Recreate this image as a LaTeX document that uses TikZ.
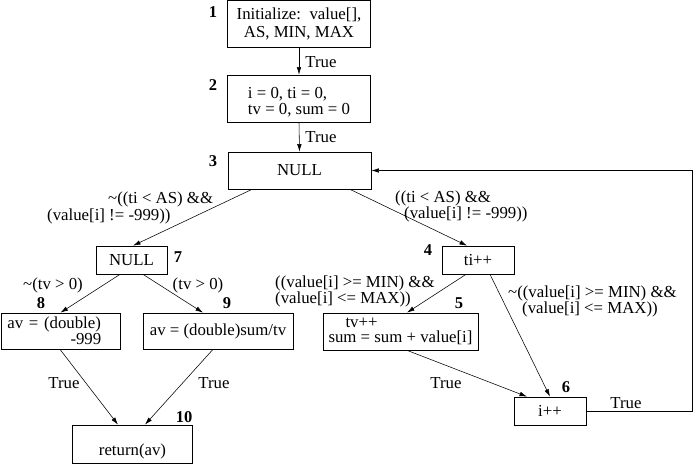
\documentclass[tikz,border=0pt]{standalone}
\usepackage{fontspec}
\setmainfont{Liberation Serif}
\usetikzlibrary{arrows.meta}
\begin{document}
\begin{tikzpicture}[x=1pt,y=-1pt,
  every node/.style={font=\fontsize{16.8}{13}\selectfont, inner sep=0pt},
  blk/.style={draw, line width=0.7pt, align=center},
  num/.style={font=\fontsize{16.5}{16.5}\selectfont\bfseries},
  lbl/.style={align=left, anchor=west},
  flow/.style={draw, line width=0.55pt, -{Latex[length=7.5pt,width=4.5pt]}},
]
\useasboundingbox (0,0) rectangle (694,464);

% statement blocks
\node[blk, minimum width=143, minimum height=47, font=\fontsize{16.8}{18}\selectfont] (n1) at (299,23.5) {Initialize:\ \ value[],\\ AS, MIN, MAX};
\node[blk, minimum width=143, minimum height=47, align=left, font=\fontsize{16.8}{16}\selectfont] (n2) at (299,98.5) {\rule{0pt}{19pt}i = 0, ti = 0,\\tv = 0, sum = 0};
\node[blk, minimum width=143, minimum height=37] (n3) at (299.5,170.5) {NULL};
\node[blk, minimum width=71, minimum height=28] (n7) at (131.5,260) {NULL};
\node[blk, minimum width=72, minimum height=28] (n4) at (478,260) {ti++};
\node[blk, minimum width=155, minimum height=37, align=left, font=\fontsize{16.8}{15.5}\selectfont] (n5) at (400.5,331.5) {\hspace*{17pt}tv++\\sum = sum + value[i]};
\node[blk, minimum width=119, minimum height=36, text width=106pt, align=left, font=\fontsize{16.8}{14}\selectfont] (n8) at (60.5,331) {av = (double)\\\hspace*{63pt}-999};
\node[blk, minimum width=150, minimum height=36] (n9) at (218,331) {av = (double)sum/tv};
\node[blk, minimum width=72, minimum height=28] (n6) at (550,411) {i++};
\node[blk, minimum width=120, minimum height=38, text height=27pt] (n10) at (132.5,444) {return(av)};

% block numbers
\node[num] (k1) at (213,12) {1};
\node[num] (k2) at (213,85) {2};
\node[num] (k3) at (213,161) {3};
\node[num] (k7) at (178,257) {7};
\node[num] (k4) at (428,250) {4};
\node[num] (k5) at (459,303) {5};
\node[num] (k6) at (566,387) {6};
\node[num] (k8) at (41,303) {8};
\node[num] (k9) at (227,303) {9};
\node[num] (k10) at (184,417) {10};

% control flow
\draw[flow] (n1.south) -- (n2.north);
\draw[flow] (n2.south) -- (n3.north);
\draw[flow] ([xshift=-47.5pt]n3.south) -- ([xshift=1.5pt]n7.north);
\draw[flow] ([xshift=50.5pt]n3.south) -- ([xshift=-11pt]n4.north);
\draw[flow] ([xshift=-11.5pt]n7.south) -- (n8.north);
\draw[flow] ([xshift=11.5pt]n7.south) -- ([xshift=-15pt]n9.north);
\draw[flow] ([xshift=-12pt]n4.south) -- ([xshift=6.5pt]n5.north);
\draw[flow] ([xshift=12pt]n4.south) -- (n6.north);
\draw[flow] ([xshift=6.5pt]n5.south) -- ([xshift=-23pt]n6.north);
\draw[flow] ([xshift=-0.5pt]n8.south) -- ([xshift=-14.5pt]n10.north);
\draw[flow] ([xshift=-5pt]n9.south) -- ([xshift=12.5pt]n10.north);
\coordinate (back) at (692,411);
\draw[flow] (n6.east) -- (back) |- (n3.east);

% edge labels
\node (t12) at (321,62) {True};
\node (t23) at (321,137) {True};
\node[lbl] (c37) at (47,208) {\hspace*{61pt}\textasciitilde((ti < AS) \&\&\\(value[i] != -999))};
\node[lbl] (c34) at (395,206.5) {((ti < AS) \&\&\\\hspace*{9pt}(value[i] != -999))};
\node (c78) at (53,285) {\textasciitilde(tv > 0)};
\node (c79) at (198,285) {(tv > 0)};
\node[lbl] (c45) at (275,291.5) {((value[i] >= MIN) \&\&\\(value[i] <= MAX))};
\node[lbl] (c46) at (508,301.5) {\textasciitilde((value[i] >= MIN) \&\&\\\hspace*{14pt}(value[i] <= MAX))};
\node (t810) at (64,383) {True};
\node (t910) at (214,383) {True};
\node (t56) at (446,383) {True};
\node (t63) at (626,403) {True};
\end{tikzpicture}
\end{document}
